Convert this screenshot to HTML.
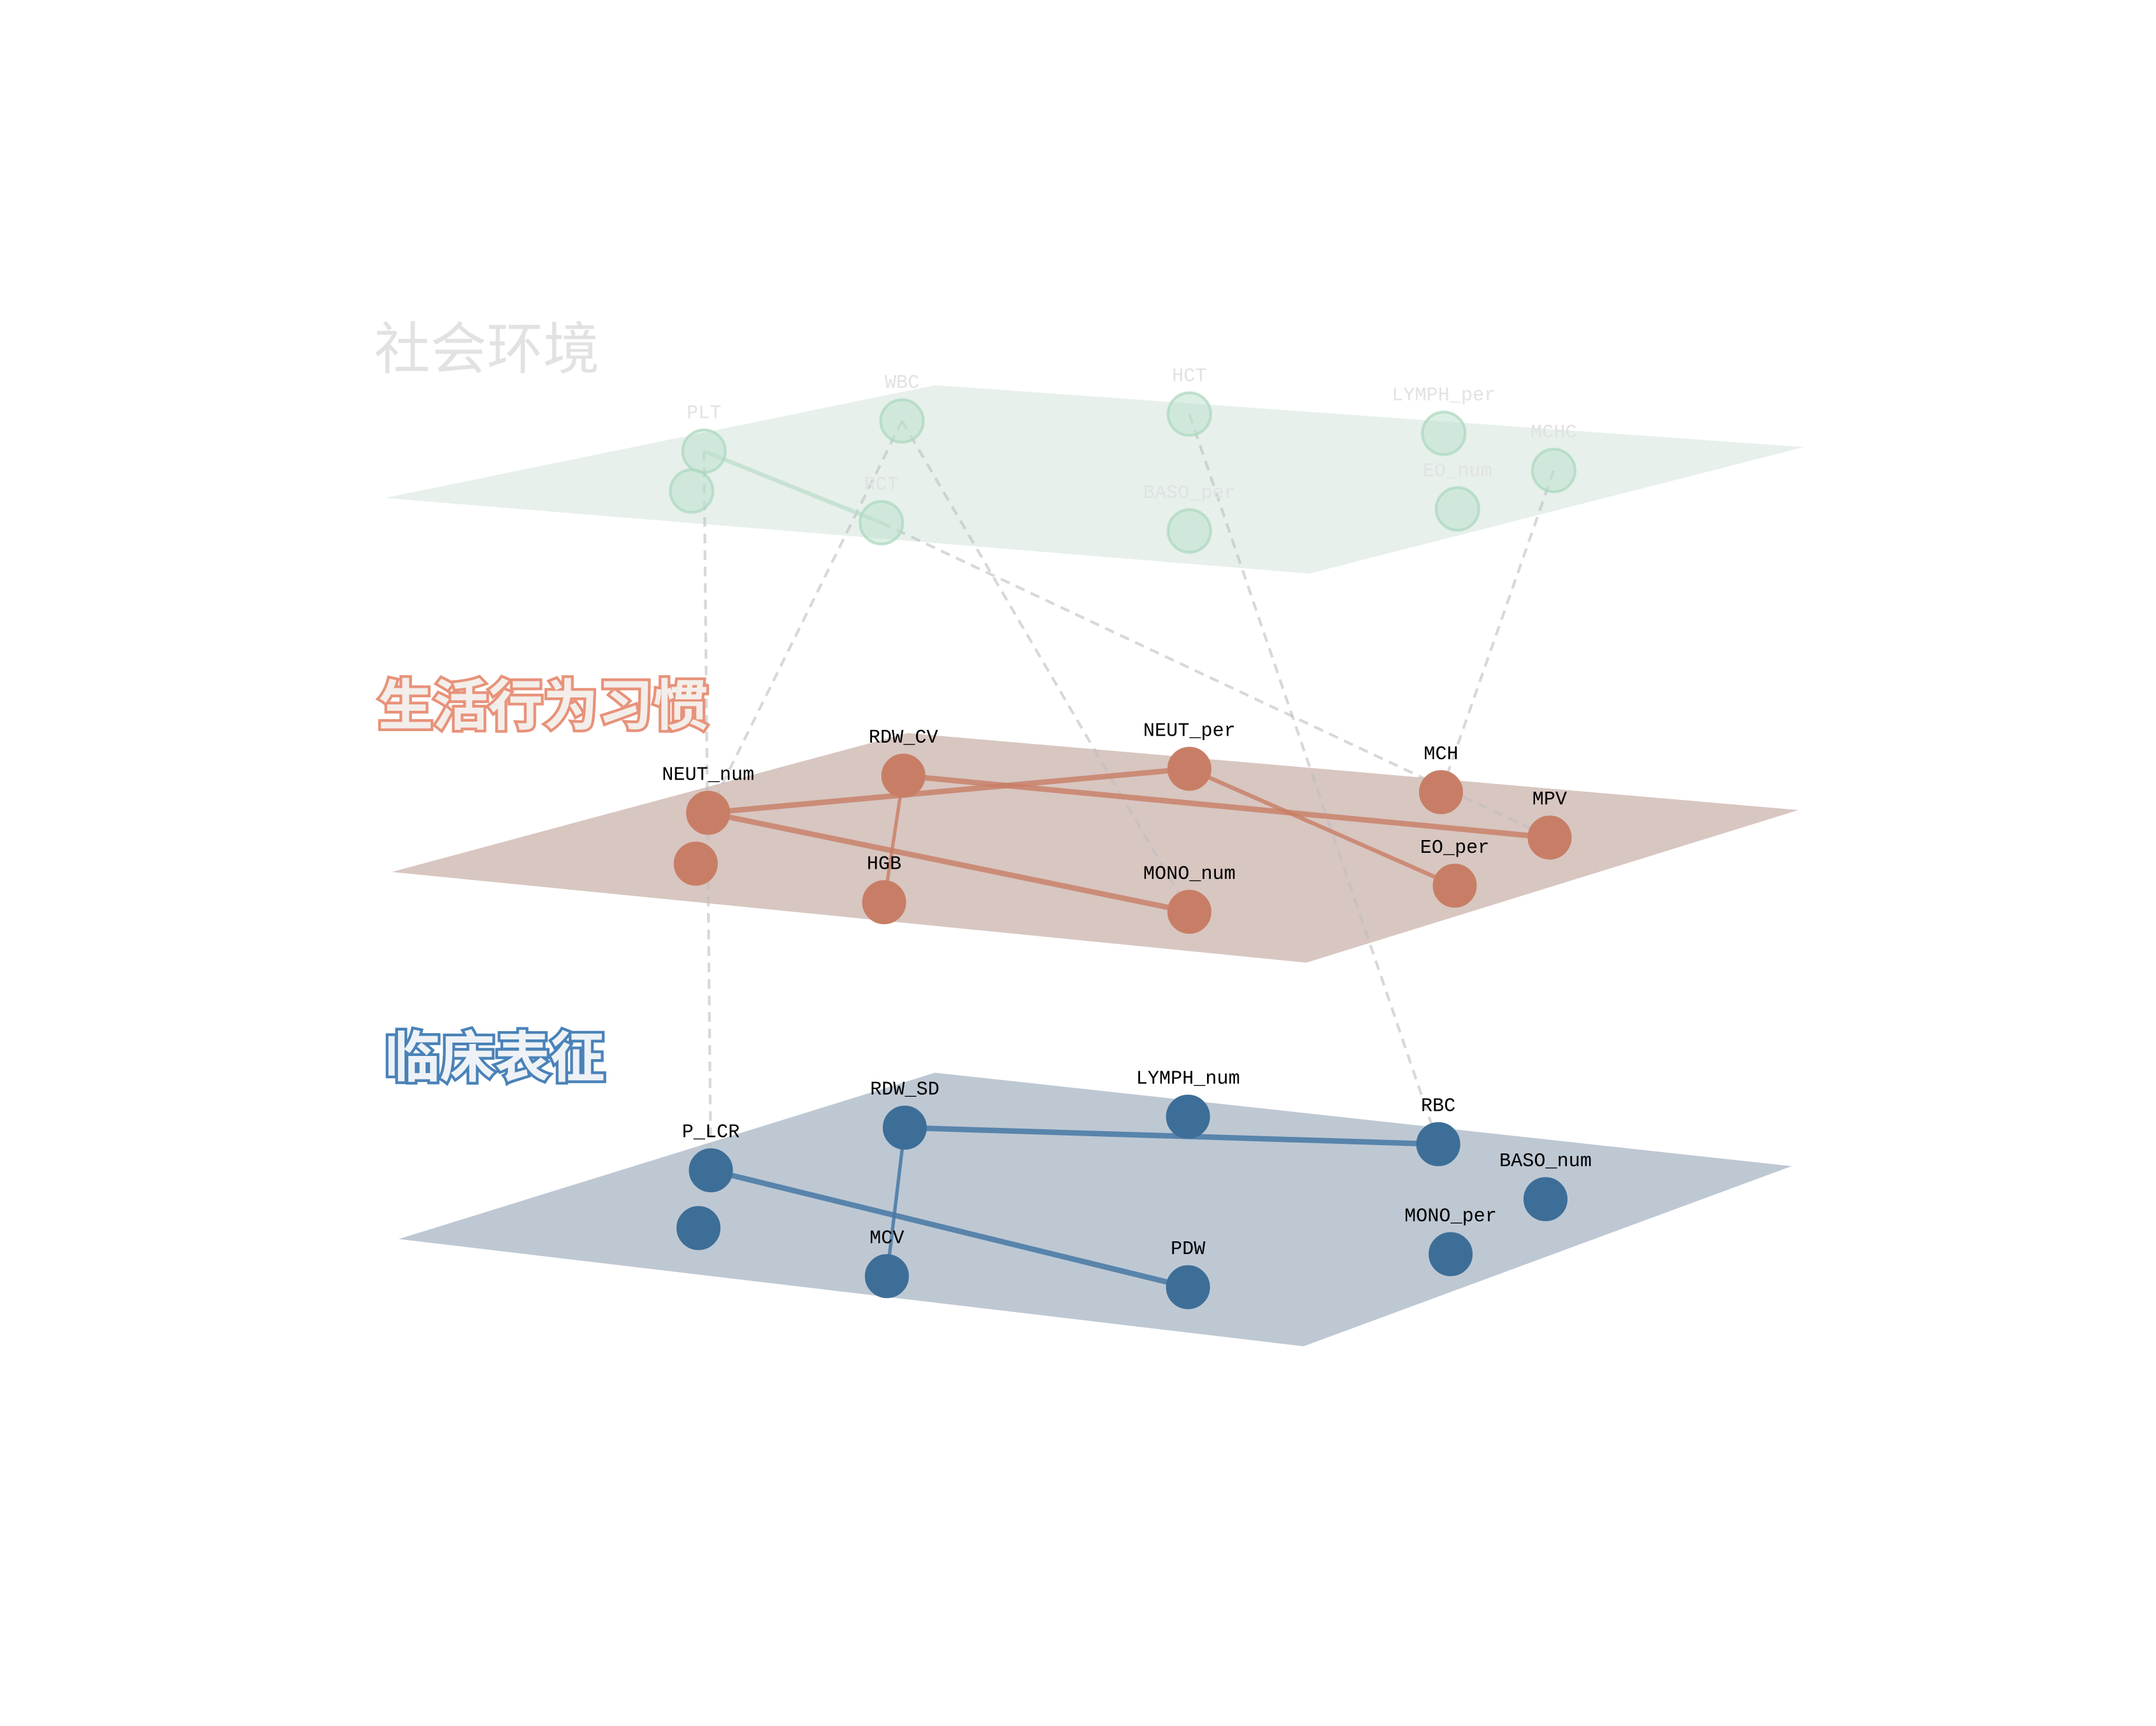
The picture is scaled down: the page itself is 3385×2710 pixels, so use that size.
<!DOCTYPE html>
<html><head><meta charset="utf-8"><style>
html,body{margin:0;padding:0;background:#fff}
svg{display:block}
text{font-family:"Liberation Mono","DejaVu Sans Mono","Noto Sans CJK SC",monospace}
.title{font-family:"Liberation Sans","Noto Sans CJK SC",sans-serif;font-weight:bold;paint-order:stroke}
</style></head><body>
<svg id="chart" width="3385" height="2710" viewBox="0 0 1568 1255" xmlns="http://www.w3.org/2000/svg">
<g id="planes"></g>
<g id="inter"></g>
<g id="edges"></g>
<g id="nodes"></g>
<g id="labels"></g>
<text class="title" x="272" y="268" font-size="41" fill="#e2e2e2" style="font-weight:normal">社会环境</text>
<text class="title" x="275" y="527" font-size="40" fill="#f3eeea" stroke="#e8927a" stroke-width="4">生活行为习惯</text>
<text class="title" x="280" y="783" font-size="40" fill="#eef2f6" stroke="#4a82b8" stroke-width="4">临床表征</text>
</svg>
<script>
const layerNames=["social","lifestyle","clinical"];
const planeCorners=[
 [[280,362],[680,280],[1312,325],[952,417]],
 [[285,634],[660,533],[1308,589],[950,700]],
 [[290,901],[680,780],[1303,848],[948,979]]
];
const planeFill=["rgba(215,230,222,0.6)","rgba(190,160,152,0.6)","rgba(150,166,184,0.62)"];
const nodeFill=["rgba(190,225,205,0.55)","#c87e66","#3d6e98"];
const nodeStroke=["rgba(170,215,190,0.7)","#c87e66","#3d6e98"];
const edgeColor=["rgba(185,220,200,0.7)","rgba(200,125,100,0.8)","rgba(70,120,165,0.85)"];
const labelColor=["#e2e2e2","#000","#000"];
const nodeNames=["PLT","","WBC","RCT","HCT","BASO_per","LYMPH_per","EO_num","MCHC",
 "NEUT_num","","RDW_CV","HGB","NEUT_per","MONO_num","MCH","MPV","EO_per",
 "P_LCR","","RDW_SD","MCV","LYMPH_num","PDW","RBC","BASO_num","MONO_per"];
const nodeLayer=[0,0,0,0,0,0,0,0,0,1,1,1,1,1,1,1,1,1,2,2,2,2,2,2,2,2,2];
const nodeX=[512,503,656,641,865,865,1050,1060,1130, 515,506,657,643,865,865,1048,1127,1058, 517,508,658,645,864,864,1046,1124,1055];
const nodeY=[328,357,306,380,301,386,315,370,342, 591,628,564,656,559,663,576,609,644, 851,893,820,928,812,936,832,872,912];
const edgeFrom=["PLT","NEUT_num","NEUT_num","RDW_CV","RDW_CV","NEUT_per","RDW_SD","P_LCR","RDW_SD"];
const edgeTo=["RCT","NEUT_per","MONO_num","MPV","HGB","EO_per","RBC","PDW","MCV"];
const edgeWidth=[3,4,4,4,2.5,3,4,4,2.5];
const interFrom=["PLT","WBC","WBC","RCT","HCT","MCHC"];
const interTo=["P_LCR","NEUT_num","MONO_num","MPV","RBC","MCH"];
const NS="http://www.w3.org/2000/svg";
function mk(t,a,p){const e=document.createElementNS(NS,t);for(const k in a)e.setAttribute(k,a[k]);p.appendChild(e);return e;}
function idx(n){return nodeNames.indexOf(n);}
const gP=document.getElementById('planes'),gI=document.getElementById('inter'),gE=document.getElementById('edges'),gN=document.getElementById('nodes'),gL=document.getElementById('labels');
planeCorners.forEach((c,i)=>{
 const p=mk('polygon',{points:c.map(q=>q.join(',')).join(' '),fill:planeFill[i]},gP);
 
 
});
interFrom.forEach((f,i)=>{
 const a=idx(f),b=idx(interTo[i]);
 const l=mk('line',{x1:nodeX[a],y1:nodeY[a],x2:nodeX[b],y2:nodeY[b],stroke:'rgba(190,190,190,0.6)','stroke-width':2,'stroke-dasharray':'7,5'},gI);
 
 
});
edgeFrom.forEach((f,i)=>{
 const a=idx(f),b=idx(edgeTo[i]);
 const l=mk('line',{x1:nodeX[a],y1:nodeY[a],x2:nodeX[b],y2:nodeY[b],stroke:edgeColor[nodeLayer[a]],'stroke-width':edgeWidth[i]},gE);
 
 
});
nodeNames.forEach((n,i)=>{
 const L=nodeLayer[i];
 const c=mk('circle',{cx:nodeX[i],cy:nodeY[i],r:15.5,fill:nodeFill[L],stroke:nodeStroke[L],'stroke-width':L===0?2:1},gN);
 
 
 if(n){
  const t=mk('text',{x:nodeX[i],y:nodeY[i]-24,'text-anchor':'middle','font-size':14,fill:labelColor[L]},gL);
  t.textContent=n;
  
  
 }
});
</script>
</body></html>
